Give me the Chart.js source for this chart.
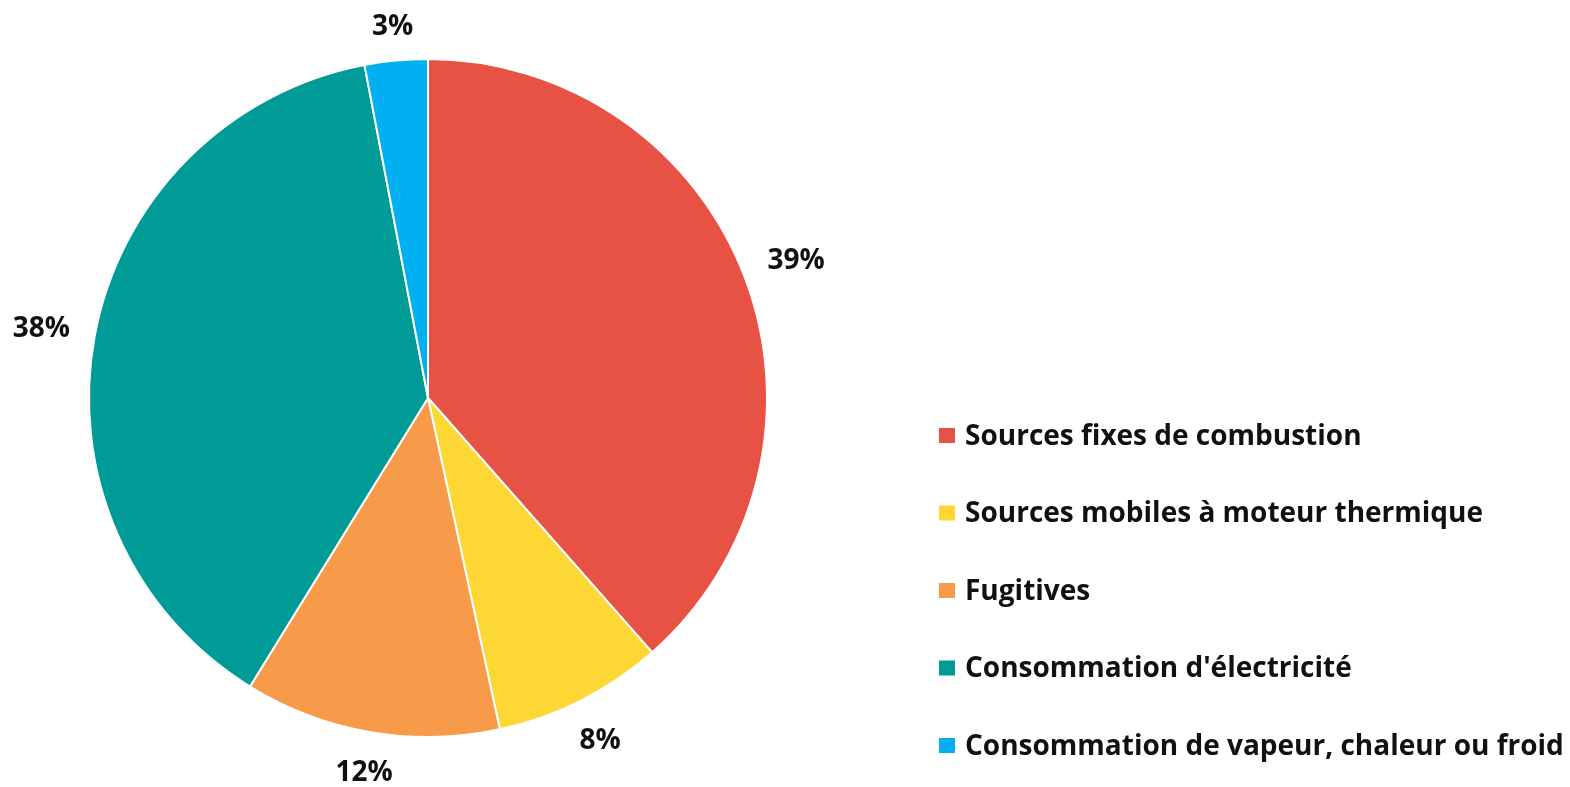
<!DOCTYPE html>
<html>
<head>
<meta charset="utf-8">
<script src="https://cdn.jsdelivr.net/npm/chart.js@4"></script>
<style>
  html, body { margin: 0; padding: 0; background: #fff; }
  #wrap { width: 1570px; height: 787px; }
</style>
</head>
<body>
<div id="wrap"><canvas id="chart" width="1570" height="787"></canvas></div>
<script>
// Categories and shares (percent), clockwise from 12 o'clock
let categories = ["Sources fixes de combustion",
                  "Sources mobiles à moteur thermique",
                  "Fugitives",
                  "Consommation d'électricité",
                  "Consommation de vapeur, chaleur ou froid"]
let shares = [38.5, 8.1, 12.2, 38.2, 3.0]
let colors = ["#E85244", "#FDD835", "#F79A4A", "#009A97", "#00B0F0"]

let label_font = "bold 28px 'Open Sans'"

// Percent labels just outside each slice.  The glyph box (not the em box) is kept
// a fixed gap away from the rim, which is how the original looks.
let outside_labels = {
    id: "outside_labels",
    afterDatasetsDraw(chart) {
        let ctx = chart.ctx
        let meta = chart.getDatasetMeta(0)
        ctx.save()
        ctx.font = label_font
        ctx.fillStyle = "#111"
        ctx.textAlign = "center"
        ctx.textBaseline = "alphabetic"
        meta.data.forEach((arc, i) => {
            let { x, y, startAngle, endAngle, outerRadius } =
                arc.getProps(["x", "y", "startAngle", "endAngle", "outerRadius"], true)
            let mid = (startAngle + endAngle) / 2
            let text = Math.round(shares[i]) + "%"
            let m = ctx.measureText(text)
            let hw = m.width / 2
            let asc = m.actualBoundingBoxAscent, desc = m.actualBoundingBoxDescent
            let hh = (asc + desc) / 2
            let c = Math.cos(mid), s = Math.sin(mid)
            let d = outerRadius + 24 + Math.abs(c) * hw + Math.abs(s) * hh
            ctx.fillText(text, x + c * d, y + s * d + (asc - desc) / 2)
        })
        ctx.restore()
    }
}

// Legend drawn by hand so it can sit low on the right like the original
let side_legend = {
    id: "side_legend",
    afterDraw(chart) {
        let ctx = chart.ctx
        ctx.save()
        ctx.font = label_font
        ctx.textBaseline = "alphabetic"
        ctx.textAlign = "left"
        let cap = ctx.measureText("S").actualBoundingBoxAscent
        categories.forEach((name, i) => {
            let cy = 435.5 + i * 77.5
            ctx.fillStyle = colors[i]
            ctx.fillRect(939, cy - 7.5, 16, 15)
            ctx.fillStyle = "#111"
            ctx.fillText(name, 965, cy - 1.5 + cap / 2)
        })
        ctx.restore()
    }
}

new Chart(document.getElementById("chart"), {
    type: "pie",
    data: {
        labels: categories,
        datasets: [{
            data: shares,
            backgroundColor: colors,
            borderColor: "#ffffff",
            borderWidth: 2
        }]
    },
    options: {
        responsive: false,
        animation: false,
        layout: {
            padding: { left: 0, right: 714, top: 58, bottom: 49 }
        },
        plugins: {
            legend: { display: false },
            tooltip: { enabled: false }
        }
    },
    plugins: [outside_labels, side_legend]
})
</script>
</body>
</html>
